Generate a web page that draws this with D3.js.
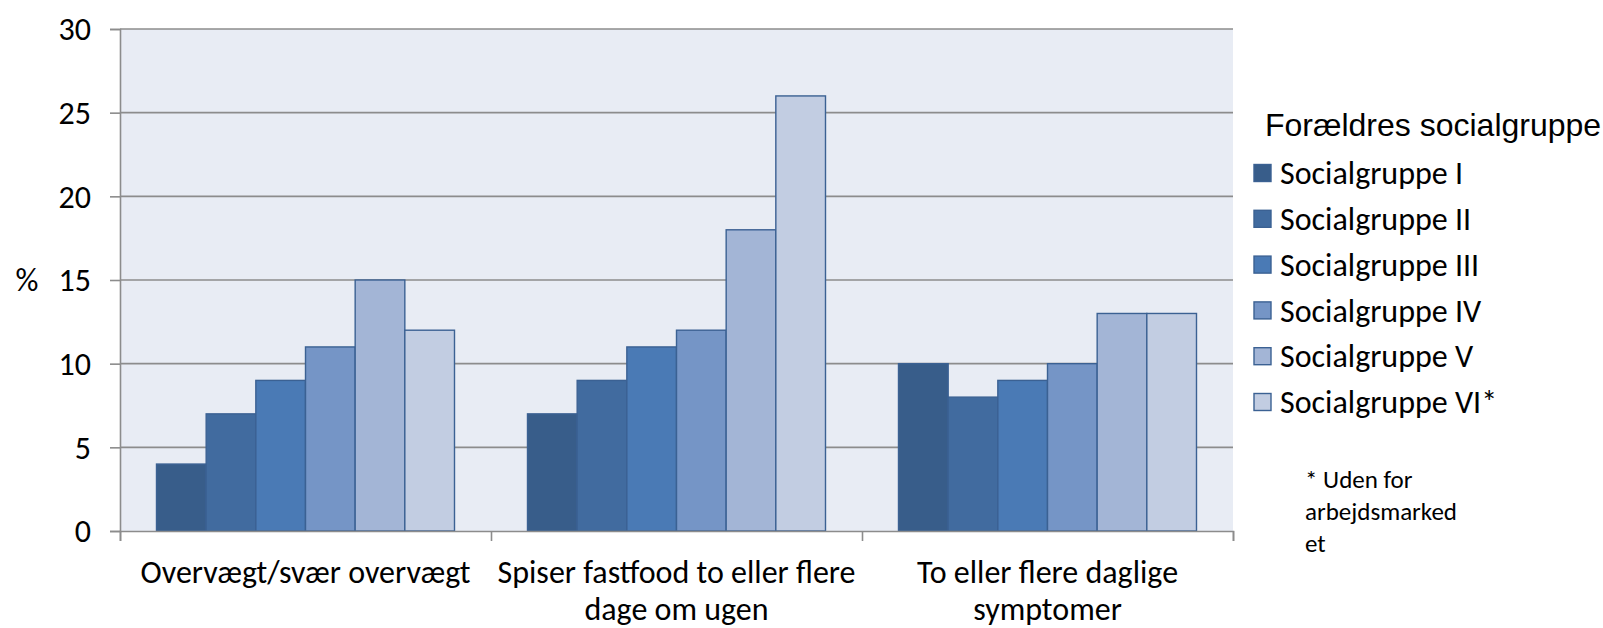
<!DOCTYPE html>
<html>
<head>
<meta charset="utf-8">
<title>Forældres socialgruppe</title>
<style>
  body { margin: 0; background: #ffffff; }
  svg { display: block; }
  .lbl { font-family: Carlito, Calibri, Lato, sans-serif; fill: #000; }
  .ttl { font-family: "Liberation Sans", Arial, sans-serif; fill: #000; }
</style>
<script src="https://d3js.org/d3.v7.min.js"></script>
</head>
<body>
<svg id="chart" width="1603" height="628"></svg>
<script>
// data
var categories = [
  ["Overvægt/svær overvægt"],
  ["Spiser fastfood to eller flere", "dage om ugen"],
  ["To eller flere daglige", "symptomer"]
];
var seriesNames = ["Socialgruppe I", "Socialgruppe II", "Socialgruppe III",
                   "Socialgruppe IV", "Socialgruppe V", "Socialgruppe VI*"];
var values = [
  [4, 7, 9, 11, 15, 12],
  [7, 9, 11, 12, 18, 26],
  [10, 8, 9, 10, 13, 13]
];
var yTicks = [0, 5, 10, 15, 20, 25, 30];
var colors = ["#385D8A", "#416B9F", "#4A7AB5", "#7595C6", "#A3B5D6", "#C2CDE2"];
var legendTitle = "Forældres socialgruppe";
var note = ["* Uden for", "arbejdsmarked", "et"];

var svg = d3.select("#chart");
var margin = {left: 120, right: 370, top: 29, bottom: 97};
var width = 1603 - margin.left - margin.right,
    height = 628 - margin.top - margin.bottom;

var g = svg.append("g").attr("transform", "translate(" + margin.left + "," + margin.top + ")");

var x0 = d3.scaleBand().domain(d3.range(categories.length)).range([0, width]).padding(0);
var x1 = d3.scaleBand().domain(d3.range(seriesNames.length)).range([0, x0.bandwidth()])
           .paddingInner(0).paddingOuter(0.735);
var y = d3.scaleLinear().domain([0, 30]).range([height, 0]);

// plot background
g.append("rect").attr("x", 0).attr("y", 0).attr("width", width).attr("height", height)
  .attr("fill", "#E8ECF4");

// gridlines
g.selectAll(".grid").data(yTicks.slice(1)).enter().append("line")
  .attr("x1", 0).attr("x2", width)
  .attr("y1", function(d) { return y(d); }).attr("y2", function(d) { return y(d); })
  .attr("stroke", "#8C8C8C").attr("stroke-width", 1.6);

// bars
var groups = g.selectAll(".grp").data(values).enter().append("g")
  .attr("transform", function(d, i) { return "translate(" + x0(i) + ",0)"; });
groups.selectAll("rect").data(function(d) { return d; }).enter().append("rect")
  .attr("x", function(d, i) { return x1(i); })
  .attr("y", function(d) { return y(d); })
  .attr("width", x1.bandwidth())
  .attr("height", function(d) { return height - y(d); })
  .attr("fill", function(d, i) { return colors[i]; })
  .attr("stroke", "#3B6193").attr("stroke-width", 1.4);

// y axis
var yAxis = g.append("g").call(d3.axisLeft(y).tickValues(yTicks).tickSize(10).tickPadding(19));
yAxis.select(".domain").attr("stroke", "#8C8C8C").attr("stroke-width", 1.6);
yAxis.selectAll(".tick line").attr("stroke", "#8C8C8C").attr("stroke-width", 1.6);
yAxis.selectAll(".tick text").attr("class", "lbl").style("font-size", "32px").attr("dy", "0.34em");

// x axis with ticks at category boundaries
var xb = d3.scaleLinear().domain([0, categories.length]).range([0, width]);
var xAxis = g.append("g").attr("transform", "translate(0," + height + ")")
  .call(d3.axisBottom(xb).tickValues(d3.range(categories.length + 1)).tickSize(10).tickFormat(""));
xAxis.select(".domain").attr("stroke", "#8C8C8C").attr("stroke-width", 1.6);
xAxis.selectAll(".tick line").attr("stroke", "#8C8C8C").attr("stroke-width", 1.6);

var xl = g.selectAll(".xl").data(categories).enter().append("text")
  .attr("class", "lbl").style("font-size", "32px").attr("text-anchor", "middle")
  .attr("x", function(d, i) { return x0(i) + x0.bandwidth() / 2; })
  .attr("y", height + 52);
xl.selectAll("tspan").data(function(d) { return d; }).enter().append("tspan")
  .attr("x", function() { return d3.select(this.parentNode).attr("x"); })
  .attr("dy", function(d, i) { return i === 0 ? 0 : 37; })
  .text(function(d) { return d; });

// y label
svg.append("text").attr("class", "lbl").style("font-size", "32px")
  .attr("x", 27).attr("y", y(15) + margin.top).attr("dy", "0.35em").attr("text-anchor", "middle")
  .text("%");

// legend
var lg = svg.append("g").attr("transform", "translate(1254,0)");
lg.append("text").attr("class", "ttl").style("font-size", "32px")
  .attr("x", 11).attr("y", 136).text(legendTitle);
var items = lg.selectAll(".li").data(seriesNames).enter().append("g")
  .attr("transform", function(d, i) { return "translate(0," + (173 + i * 45.8) + ")"; });
items.append("rect").attr("x", 0).attr("y", -8.5).attr("width", 17).attr("height", 17)
  .attr("fill", function(d, i) { return colors[i]; })
  .attr("stroke", "#3B6193").attr("stroke-width", 1.4);
items.append("text").attr("class", "lbl").style("font-size", "32px")
  .attr("x", 26).attr("dy", "0.35em").text(function(d) { return d; });

// footnote
svg.append("g").selectAll("text").data(note).enter().append("text")
  .attr("class", "lbl").style("font-size", "25px")
  .attr("x", 1305).attr("y", function(d, i) { return 488 + i * 32; })
  .text(function(d) { return d; });
</script>
</body>
</html>
